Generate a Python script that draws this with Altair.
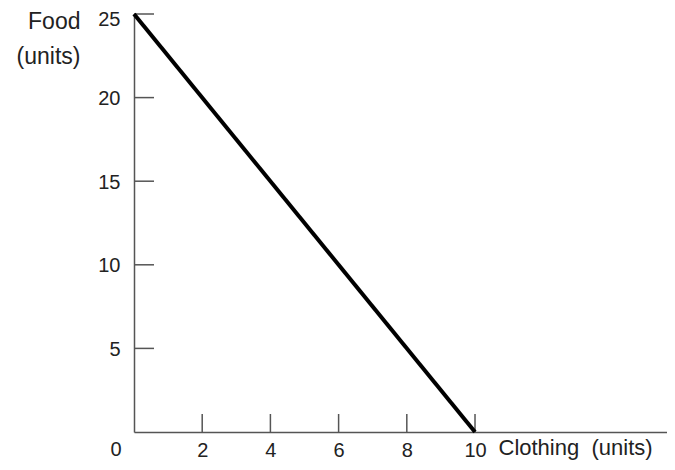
import altair as alt
import pandas as pd

# Budget line data
clothing = [0, 10]
food = [25, 0]

x_tick_values = [2, 4, 6, 8, 10]
y_tick_values = [5, 10, 15, 20, 25]
origin_label = ["0"]

line_df = pd.DataFrame({"clothing": clothing, "food": food})
xt_df = pd.DataFrame({"v": x_tick_values})
yt_df = pd.DataFrame({"v": y_tick_values})
origin_df = pd.DataFrame({"clothing": [0], "food": [0], "t": origin_label})

W, H = 533, 418
AXIS_COLOR = "#555555"
TEXT_COLOR = "#222222"
FONT = "Liberation Sans"

xscale = alt.Scale(domain=[0, 15.63], nice=False, zero=True)
yscale = alt.Scale(domain=[0, 25], nice=False, zero=True)

x_axis = alt.Axis(
    values=x_tick_values, ticks=False, grid=False, labelFlush=False,
    labelFontSize=20, labelPadding=8, labelColor=TEXT_COLOR, labelFont=FONT,
    domainColor=AXIS_COLOR, domainWidth=1.5,
    title="Clothing\u00a0\u00a0(units)", titleFontSize=22, titleFontWeight="normal",
    titleFont=FONT, titleColor=TEXT_COLOR,
    titleAnchor="start", titleAlign="left", titleBaseline="middle",
    titleX=364, titleY=15,
)
y_axis = alt.Axis(
    values=y_tick_values, ticks=False, grid=False, labelFlush=False,
    labelOffset={"condition": {"test": "datum.value == 25", "value": 5}, "value": 1},
    labelFontSize=20, labelPadding=14, labelColor=TEXT_COLOR, labelFont=FONT,
    domainColor=AXIS_COLOR, domainWidth=1.5,
    title=["Food", "(units)"], titleFontSize=23, titleFontWeight="normal",
    titleFont=FONT, titleColor=TEXT_COLOR, titleAngle=0,
    titleAlign="right", titleBaseline="middle", titleLineHeight=35,
    titleX=-54, titleY=7,
)

line = alt.Chart(line_df).mark_line(color="black", strokeWidth=4).encode(
    x=alt.X("clothing:Q", scale=xscale, axis=x_axis),
    y=alt.Y("food:Q", scale=yscale, axis=y_axis),
)

yticks = alt.Chart(yt_df).mark_rule(color=AXIS_COLOR, strokeWidth=1.5).encode(
    y=alt.Y("v:Q", scale=yscale),
    x=alt.value(0), x2=alt.value(20),
)
xticks = alt.Chart(xt_df).mark_rule(color=AXIS_COLOR, strokeWidth=1.5).encode(
    x=alt.X("v:Q", scale=xscale),
    y=alt.value(H - 18), y2=alt.value(H),
)
origin = alt.Chart(origin_df).mark_text(
    fontSize=20, font=FONT, color=TEXT_COLOR, dx=-18, dy=18, baseline="middle"
).encode(
    x=alt.X("clothing:Q", scale=xscale),
    y=alt.Y("food:Q", scale=yscale),
    text="t:N",
)

chart = alt.layer(yticks, xticks, line, origin).properties(
    width=W, height=H,
    autosize=alt.AutoSizeParams(type="none"),
    padding={"left": 126, "top": 6, "right": 0, "bottom": 30},
).configure(background="white").configure_view(stroke=None)

chart.save("out.html", embed_options={"renderer": "svg", "actions": False})
